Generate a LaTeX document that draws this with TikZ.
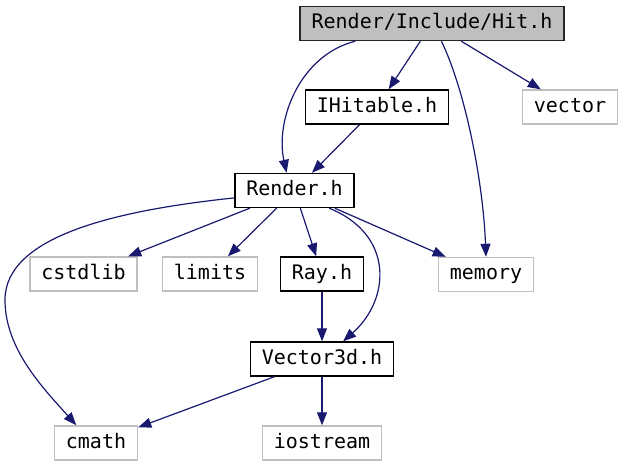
\documentclass[tikz,border=0pt]{standalone}
\usepackage{fontspec}
\setmonofont{DejaVu Sans Mono}
\usetikzlibrary{arrows.meta,positioning}
\definecolor{edgeblue}{HTML}{191970}
\definecolor{sysgray}{HTML}{BFBFBF}

\begin{document}
\begin{tikzpicture}[
        x=0.5pt, y=0.5pt,
        file/.style={rectangle, draw=black, fill=white, line width=0.7pt,
            minimum height=17pt, inner xsep=5.75pt, inner ysep=0pt,
            text height=7.4pt, text depth=2.1pt,
            font=\ttfamily\fontsize{10}{12}\selectfont},
        sysfile/.style={file, draw=sysgray},
        topfile/.style={file, fill=sysgray, draw=black!85},
        dep/.style={draw=edgeblue, line width=0.6pt,
            -{Triangle[length=6.5pt, width=5pt]}},
        every edge/.style={dep},
    ]
        \useasboundingbox (0,0) rectangle (625,467);

        % files
        \node[topfile] (hit)      at (432,443.5) {Render/Include/Hit.h};
        \node[file]    (ihitable) at (377,360)   {IHitable.h};
        \node[sysfile] (vector)   at (570,360)   {vector};
        \node[file]    (render)   at (294.5,276.5) {Render.h};
        \node[sysfile] (cstdlib)  at (83.5,193)  {cstdlib};
        \node[sysfile] (limits)   at (210,193)   {limits};
        \node[file]    (ray)      at (322,193)   {Ray.h};
        \node[sysfile] (memory)   at (486,192.5) {memory};
        \node[file]    (vec3d)    at (322,108)   {Vector3d.h};
        \node[sysfile] (cmath)    at (96,24)     {cmath};
        \node[sysfile] (iostream) at (322,24)    {iostream};

        \path
            (hit) edge (ihitable)
            (hit) edge (vector)
            (ihitable) edge (render)
            (render) edge (cstdlib)
            (render) edge (limits)
            (render) edge (ray)
            (render) edge (memory)
            (ray) edge (vec3d)
            (vec3d) edge (cmath)
            (vec3d) edge (iostream);

        % curved includes
        \draw[dep] (hit.193) .. controls (300,412) and (275,347) .. (render.114);
        \draw[dep] (hit.298) .. controls (465,377) and (483,287) .. (memory.north);
        \draw[dep] (render.187) .. controls (120,257) and (5,232) .. (5,167)
            .. controls (5,117) and (45,77) .. (cmath.138);
        \draw[dep] (render.333) .. controls (395,232) and (390,167) .. (vec3d.40);
    \end{tikzpicture}
\end{document}
